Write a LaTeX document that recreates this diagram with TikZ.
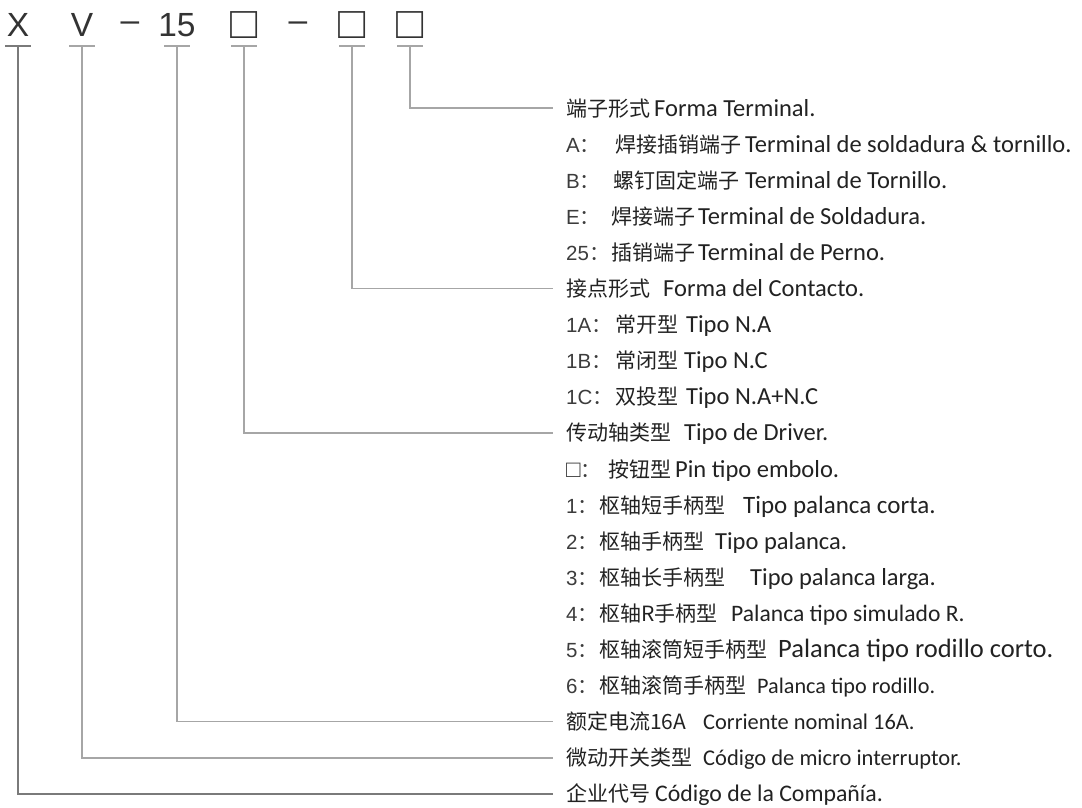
\documentclass[tikz,border=0pt]{standalone}
\usepackage{fontspec}
\newfontfamily\cjk{Noto Sans CJK SC}
\newfontfamily\lat{Carlito}
\newfontfamily\arl{Liberation Sans}
\definecolor{txt}{HTML}{222222}
\definecolor{pretxt}{HTML}{3C3C3C}
\definecolor{hdrtxt}{HTML}{333333}
\definecolor{ln}{HTML}{A6A6A6}
\definecolor{lnd}{HTML}{7A7A7A}
\begin{document}
\begin{tikzpicture}[x=1pt,y=-1pt,
  hdr/.style={font=\arl\fontsize{33.5}{34}\selectfont, text=hdrtxt, inner sep=0, anchor=center},
  hbox/.style={font=\arl\fontsize{45}{46}\selectfont, text=hdrtxt, inner sep=0, anchor=center},
  conn/.style={draw=ln, line width=1.3pt},
  connd/.style={draw=lnd, line width=1.3pt},
  zh/.style={font=\cjk\fontsize{21}{22}\selectfont, text=txt, inner sep=0, anchor=base west},
  es/.style={font=\lat\fontsize{24.5}{26}\selectfont, text=txt, inner sep=0, anchor=base west},
  pre/.style={font=\arl\fontsize{20.5}{22}\selectfont, text=pretxt, inner sep=0, anchor=base west}]
\useasboundingbox (0,0) rectangle (1082,808);

% header
\node[hdr] (hX) at (18,25) {X};
\node[hdr] (hV) at (82,25) {V};
\node[hdr] (hD1) at (130,27) {–};
\node[hdr] (h15) at (177,25) {15};
\node[hbox] (hB1) at (244,25) {□};
\node[hdr] (hD2) at (298,27) {–};
\node[hbox] (hB2) at (352,25) {□};
\node[hbox] (hB3) at (410,25) {□};

\coordinate (tX) at (18,46);
\coordinate (tV) at (82,46);
\coordinate (t15) at (177,46);
\coordinate (tB1) at (244,46);
\coordinate (tB2) at (352,46);
\coordinate (tB3) at (410,46);

% rows (centre y = 108 + 36.1*(i-1), baseline = centre + 8)
\node[zh] (z1) at (566,116) {端子形式};
\node[es] (s1) at (654,116) {Forma Terminal.};

\node[pre] (p2) at (566,152.1) {A{\cjk ：}};
\node[zh] (z2) at (615,152.1) {焊接插销端子};
\node[es] (s2) at (745,152.1) {Terminal de soldadura \& tornillo.};

\node[pre] (p3) at (566,188.2) {B{\cjk ：}};
\node[zh] (z3) at (613,188.2) {螺钉固定端子};
\node[es] (s3) at (745,188.2) {Terminal de Tornillo.};

\node[pre] (p4) at (566,224.3) {E{\cjk ：}};
\node[zh] (z4) at (611,224.3) {焊接端子};
\node[es] (s4) at (698,224.3) {Terminal de Soldadura.};

\node[pre] (p5) at (566,260.4) {25{\cjk ：}};
\node[zh] (z5) at (611,260.4) {插销端子};
\node[es] (s5) at (698,260.4) {Terminal de Perno.};

\node[zh] (z6) at (566,296.5) {接点形式};
\node[es] (s6) at (663,296.5) {Forma del Contacto.};

\node[pre] (p7) at (566,332.6) {1A{\cjk ：}};
\node[zh] (z7) at (615,332.6) {常开型};
\node[es] (s7) at (686,332.6) {Tipo N.A};

\node[pre] (p8) at (566,368.7) {1B{\cjk ：}};
\node[zh] (z8) at (615,368.7) {常闭型};
\node[es] (s8) at (684,368.7) {Tipo N.C};

\node[pre] (p9) at (566,404.8) {1C{\cjk ：}};
\node[zh] (z9) at (615,404.8) {双投型};
\node[es] (s9) at (686,404.8) {Tipo N.A+N.C};

\node[zh] (z10) at (566,440.9) {传动轴类型};
\node[es] (s10) at (684,440.9) {Tipo de Driver.};

\node[pre] (p11) at (566,477) {{\fontsize{24}{24}\selectfont □}{\cjk ：}};
\node[zh] (z11) at (608,477) {按钮型};
\node[es] (s11) at (675,477) {Pin tipo embolo.};

\node[pre] (p12) at (566,513.1) {1{\cjk ：}};
\node[zh] (z12) at (599,513.1) {枢轴短手柄型};
\node[es, font=\lat\fontsize{25}{26}\selectfont] (s12) at (743,513.1) {Tipo palanca corta.};

\node[pre] (p13) at (566,549.2) {2{\cjk ：}};
\node[zh] (z13) at (599,549.2) {枢轴手柄型};
\node[es] (s13) at (715,549.2) {Tipo palanca.};

\node[pre] (p14) at (566,585.3) {3{\cjk ：}};
\node[zh] (z14) at (599,585.3) {枢轴长手柄型};
\node[es] (s14) at (750,585.3) {Tipo palanca larga.};

\node[pre] (p15) at (566,621.4) {4{\cjk ：}};
\node[zh] (z15) at (599,621.4) {枢轴R手柄型};
\node[es, font=\lat\fontsize{23.6}{25}\selectfont] (s15) at (731,621.4) {Palanca tipo simulado R.};

\node[pre] (p16) at (566,657.5) {5{\cjk ：}};
\node[zh] (z16) at (599,657.5) {枢轴滚筒短手柄型};
\node[es, font=\lat\fontsize{26.5}{28}\selectfont] (s16) at (778,657.5) {Palanca tipo rodillo corto.};

\node[pre] (p17) at (566,693.6) {6{\cjk ：}};
\node[zh] (z17) at (599,693.6) {枢轴滚筒手柄型};
\node[es, font=\lat\fontsize{22.2}{24}\selectfont] (s17) at (757,693.6) {Palanca tipo rodillo.};

\node[zh] (z18) at (566,729.7) {额定电流16A};
\node[es, font=\lat\fontsize{22.4}{24}\selectfont] (s18) at (703,729.7) {Corriente nominal 16A.};

\node[zh] (z19) at (566,765.8) {微动开关类型};
\node[es, font=\lat\fontsize{22.5}{24}\selectfont] (s19) at (703,765.8) {Código de micro interruptor.};

\node[zh] (z20) at (566,801.9) {企业代号};
\node[es, font=\lat\fontsize{23.8}{25}\selectfont] (s20) at (655,801.9) {Código de la Compañía.};

% ticks
\foreach \t in {tV,t15,tB1,tB2,tB3} {
  \draw[conn] ([xshift=-13pt]\t) -- ([xshift=13pt]\t);
}
\draw[connd] ([xshift=-13pt]tX) -- ([xshift=13pt]tX);

% connectors
\draw[conn] (tB3) |- ([xshift=-13pt]z1.west);
\draw[conn] (tB2) |- ([xshift=-13pt]z6.west);
\draw[conn] (tB1) |- ([xshift=-13pt]z10.west);
\draw[conn] (t15) |- ([xshift=-13pt]z18.west);
\draw[conn] (tV) |- ([xshift=-13pt]z19.west);
\draw[connd] (tX) |- ([xshift=-13pt]z20.west);
\end{tikzpicture}
\end{document}
